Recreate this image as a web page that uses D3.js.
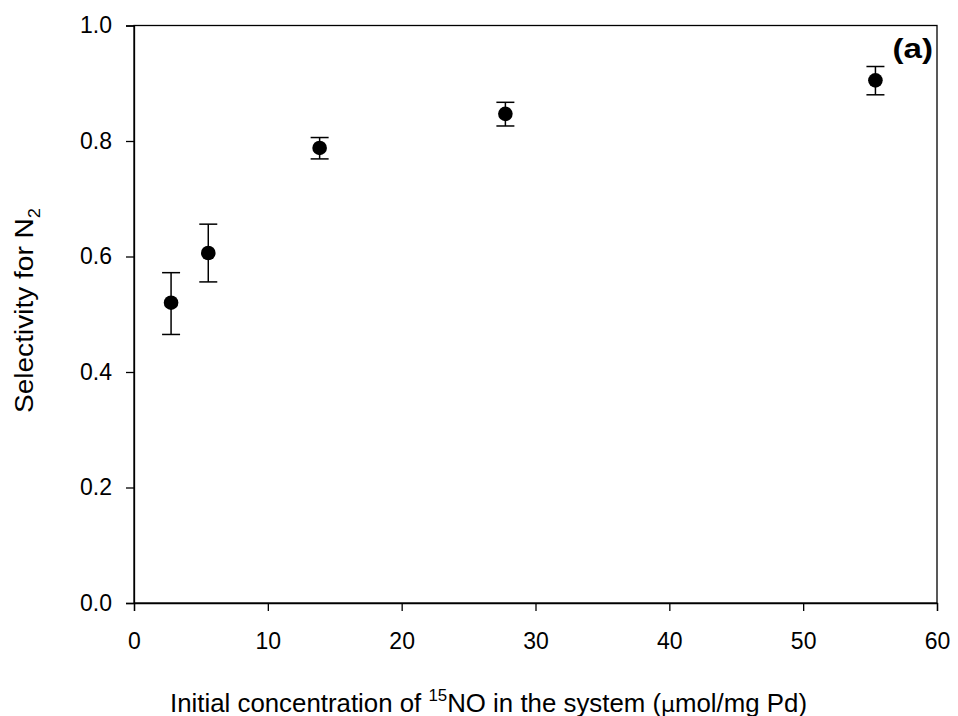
<!DOCTYPE html>
<html><head><meta charset="utf-8">
<script src="https://cdn.jsdelivr.net/npm/d3@7"></script>
<style>body{margin:0;background:#fff}svg{display:block}text{font-family:"Liberation Sans",Arial,sans-serif}</style>
</head><body>
<svg id="c" width="958" height="716"></svg>
<script>
const xValues = [2.77, 5.55, 13.87, 27.75, 55.4];
const yValues = [0.520, 0.606, 0.788, 0.847, 0.905];
const yLower = [0.465, 0.556, 0.769, 0.826, 0.880];
const yUpper = [0.572, 0.656, 0.806, 0.867, 0.929];
const xTicks = [0, 10, 20, 30, 40, 50, 60];
const yTicks = [0.0, 0.2, 0.4, 0.6, 0.8, 1.0];

const svg = d3.select("#c");
const L = 134, R = 937, T = 25.5, B = 603;
const x = d3.scaleLinear().domain([0, 60]).range([L, R]);
const y = d3.scaleLinear().domain([0, 1]).range([B, T]);

svg.append("rect").attr("x", L).attr("y", T).attr("width", R - L).attr("height", B - T)
  .attr("fill", "none").attr("stroke", "#000").attr("stroke-width", 1.3);

const xa = svg.append("g").attr("transform", `translate(0,${B})`)
  .call(d3.axisBottom(x).tickValues(xTicks).tickSize(8).tickPadding(22).tickFormat(d3.format("d")));
const ya = svg.append("g").attr("transform", `translate(${L},0)`)
  .call(d3.axisLeft(y).tickValues(yTicks).tickSize(8).tickPadding(14).tickFormat(d3.format(".1f")));
[xa, ya].forEach(a => {
  a.attr("font-size", 23).attr("font-family", "Liberation Sans, Arial, sans-serif");
  a.select(".domain").attr("stroke", "#000").attr("stroke-width", 1.3);
  a.selectAll(".tick line").attr("stroke", "#000").attr("stroke-width", 1.3);
  a.selectAll("text").attr("fill", "#000").style("font-size", "23px");
});

const data = xValues.map((d, i) => ({x: d, y: yValues[i], lo: yLower[i], hi: yUpper[i]}));
const eb = svg.append("g").attr("stroke", "#000").attr("stroke-width", 1.5);
data.forEach(d => {
  eb.append("line").attr("x1", x(d.x)).attr("x2", x(d.x)).attr("y1", y(d.lo)).attr("y2", y(d.hi));
  eb.append("line").attr("x1", x(d.x) - 9).attr("x2", x(d.x) + 9).attr("y1", y(d.lo)).attr("y2", y(d.lo));
  eb.append("line").attr("x1", x(d.x) - 9).attr("x2", x(d.x) + 9).attr("y1", y(d.hi)).attr("y2", y(d.hi));
});
svg.append("g").selectAll("circle").data(data).join("circle")
  .attr("cx", d => x(d.x)).attr("cy", d => y(d.y)).attr("r", 7.3).attr("fill", "#000");

svg.append("text").attr("x", 892.5).attr("y", 58).style("font-size", "27px").attr("font-weight", "bold")
  .attr("textLength", 40.5).attr("lengthAdjust", "spacingAndGlyphs").text("(a)");

const xt = svg.append("text").attr("x", 170).attr("y", 711.5).style("font-size", "26px")
  .attr("textLength", 637).attr("lengthAdjust", "spacingAndGlyphs");
xt.append("tspan").text("Initial concentration of ");
xt.append("tspan").style("font-size", "17px").attr("dy", -11).text("15");
xt.append("tspan").attr("dy", 11).text("NO in the system (");
xt.append("tspan").attr("font-family", "DejaVu Sans").style("font-size", "22px").text("μ");
xt.append("tspan").text("mol/mg Pd)");

const yt = svg.append("text").attr("transform", `translate(33,413) rotate(-90)`)
  .style("font-size", "26px").attr("textLength", 205).attr("lengthAdjust", "spacingAndGlyphs");
yt.append("tspan").text("Selectivity for N");
yt.append("tspan").style("font-size", "17px").attr("dy", 7).text("2");
</script>
</body></html>
